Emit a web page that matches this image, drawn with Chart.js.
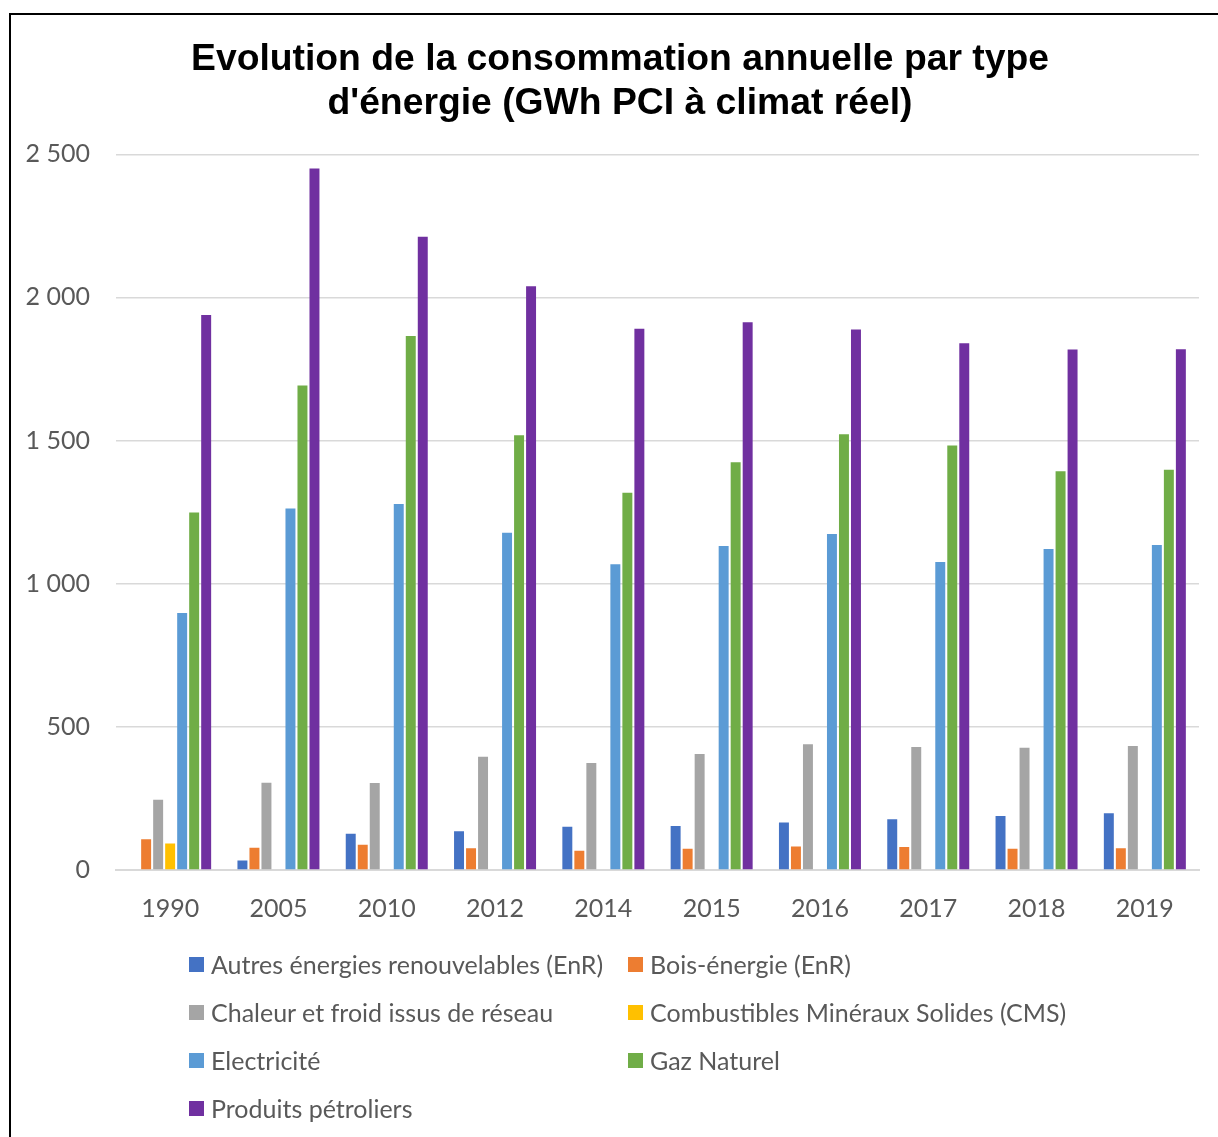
<!DOCTYPE html>
<html lang="fr">
<head>
<meta charset="utf-8">
<title>Consommation annuelle par type d'énergie</title>
<script src="https://cdn.jsdelivr.net/npm/chart.js@4.4.1/dist/chart.umd.min.js"></script>
<style>
  body { margin: 0; background: #fff; }
  #wrap { position: relative; width: 1218px; height: 1137px; overflow: hidden; background: #fff; }
  #frame { position: absolute; left: 9px; top: 13px; width: 1400px; height: 1400px; border: 2px solid #000; box-sizing: border-box; }
  #chart { position: absolute; left: 0; top: 0; }
  #legend {
    position: absolute; left: 189px; top: 940px;
    display: grid; grid-template-columns: 439px auto; grid-auto-rows: 48px;
    font-family: Lato, "Open Sans", sans-serif; font-size: 25px; color: #595959;
  }
  #legend .item { display: flex; align-items: center; white-space: nowrap; }
  #legend .box { width: 15px; height: 15px; margin-right: 7px; flex: none; }
</style>
</head>
<body>
<div id="wrap">
  <div id="frame"></div>
  <canvas id="chart" width="1218" height="966"></canvas>
  <div id="legend"></div>
</div>
<script>
const years = ['1990', '2005', '2010', '2012', '2014', '2015', '2016', '2017', '2018', '2019'];

// GWh PCI, climat réel
const autresEnR = [null, 33, 127, 135, 151, 154, 166, 177, 189, 198];
const boisEnergie = [107, 78, 88, 76, 67, 74, 82, 80, 74, 76];
const chaleurFroid = [245, 305, 304, 396, 374, 405, 439, 430, 427, 433];
const combustiblesCMS = [93, null, null, null, null, null, null, null, null, null];
const electricite = [898, 1263, 1278, 1178, 1068, 1132, 1174, 1076, 1121, 1135];
const gazNaturel = [1249, 1692, 1865, 1519, 1318, 1424, 1522, 1483, 1393, 1398];
const produitsPetroliers = [1939, 2450, 2212, 2039, 1891, 1913, 1888, 1840, 1818, 1819];

const seriesNames = [
    'Autres énergies renouvelables (EnR)',
    'Bois-énergie (EnR)',
    'Chaleur et froid issus de réseau',
    'Combustibles Minéraux Solides (CMS)',
    'Electricité',
    'Gaz Naturel',
    'Produits pétroliers'
];
const seriesValues = [autresEnR, boisEnergie, chaleurFroid, combustiblesCMS, electricite, gazNaturel, produitsPetroliers];
const seriesColors = ['#4472C4', '#ED7D31', '#A5A5A5', '#FFC000', '#5B9BD5', '#70AD47', '#7030A0'];

const yTicks = [0, 500, 1000, 1500, 2000, 2500];

// "2500" -> "2 500"
function formatThousands(v) {
    return String(v).replace(/\B(?=(\d{3})+(?!\d))/g, ' ');
}

const datasets = seriesNames.map((name, i) => ({
    label: name,
    data: seriesValues[i],
    backgroundColor: seriesColors[i],
    borderWidth: 0,
    categoryPercentage: 0.776,
    barPercentage: 0.83
}));

const tickFont = { family: 'Lato', size: 25 };

// the y axis box is kept narrow so the title centres further right;
// widen its clip area again so the tick labels are not cut
const unclipYLabels = {
    id: 'unclipYLabels',
    afterLayout(chart) {
        chart.scales.y.left = 0;
    }
};

const chart = new Chart(document.getElementById('chart'), {
    type: 'bar',
    data: { labels: years, datasets: datasets },
    plugins: [unclipYLabels],
    options: {
        responsive: false,
        devicePixelRatio: 1,
        animation: false,
        layout: { padding: { left: 41, right: 19, top: 38, bottom: 18 } },
        plugins: {
            legend: { display: false },
            tooltip: { enabled: false },
            title: {
                display: true,
                text: ['Evolution de la consommation annuelle par type', "d'énergie (GWh PCI à climat réel)"],
                color: '#000',
                font: { family: 'Liberation Sans', size: 37.3, weight: 'bold', lineHeight: 1.17 },
                padding: { top: 0, bottom: 29 }
            }
        },
        scales: {
            x: {
                grid: { display: false, drawTicks: false },
                border: { color: '#D9D9D9', width: 2 },
                ticks: { color: '#595959', font: tickFont, padding: 24 }
            },
            y: {
                min: 0,
                max: 2500,
                afterBuildTicks: (axis) => { axis.ticks = yTicks.map(v => ({ value: v })); },
                afterFit: (axis) => { axis.width = 75; },
                grid: { color: '#D9D9D9', lineWidth: 1.5, drawTicks: false },
                border: { display: false },
                ticks: {
                    color: '#595959',
                    font: tickFont,
                    padding: 26,
                    callback: (v) => formatThousands(v)
                }
            }
        }
    }
});

// two-column legend built from the chart datasets
const legendEl = document.getElementById('legend');
chart.data.datasets.forEach(ds => {
    const item = document.createElement('div');
    item.className = 'item';
    const box = document.createElement('span');
    box.className = 'box';
    box.style.background = ds.backgroundColor;
    const label = document.createElement('span');
    label.textContent = ds.label;
    item.appendChild(box);
    item.appendChild(label);
    legendEl.appendChild(item);
});
</script>
</body>
</html>
